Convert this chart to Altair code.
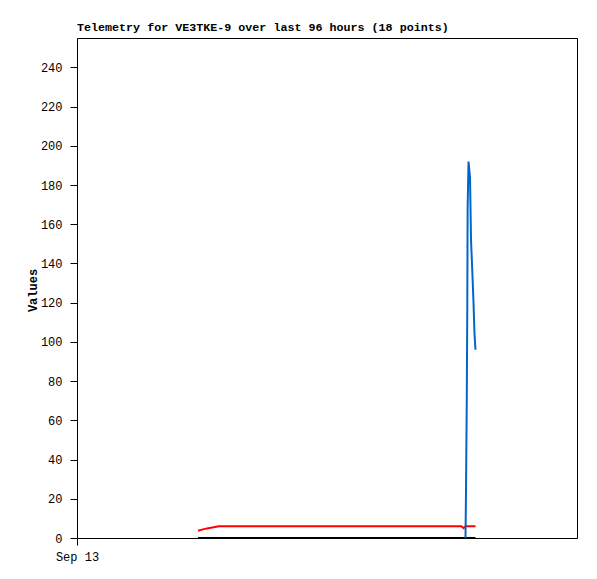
import altair as alt
import pandas as pd

# time offsets in hours from Sep 13 00:00
hours = [23.23, 24.19, 24.96, 27.26, 73.82, 74.21,
         74.59, 74.69, 74.84, 74.94, 75.00, 75.17,
         75.46, 75.65, 75.90, 76.13, 76.32, 76.51]
blue = [None, None, None, None, None, None,
        0, 24, 72, 120, 168, 192,
        184, 152, 136, 120, 104, 96]
red = [3.7, 4.4, 4.9, 6.0, 6.0, 5.0,
       6.0, 6.0, 6.0, 6.0, 6.0, 6.0,
       6.0, 6.0, 6.0, 6.0, 6.0, 6.0]
black = [0] * 18

y_ticks = [0, 20, 40, 60, 80, 100, 120, 140, 160, 180, 200, 220, 240]
title_text = "Telemetry for VE3TKE-9 over last 96 hours (18 points)"
x_label = "Sep 13"

df = pd.DataFrame({"hours": hours, "blue": blue, "red": red, "black": black})

FONT = "Liberation Mono"

xscale = alt.Scale(domain=[0, 96], nice=False, zero=False)
yscale = alt.Scale(domain=[0, 255], nice=False)

xaxis = alt.Axis(values=[0], labelExpr=f"'{x_label}'", title=None, grid=False,
                 ticks=True, tickSize=7, tickColor="black", domainColor="black",
                 labelFont=FONT, labelFontSize=12, labelColor="black",
                 labelFlush=False, labelAlign="center",
                 labelPadding=6, domainWidth=1, tickWidth=1)
yaxis = alt.Axis(values=y_ticks, title="Values", grid=False, ticks=True,
                 tickSize=7, tickColor="black", domainColor="black",
                 labelFont=FONT, labelFontSize=12, labelColor="black",
                 labelPadding=8, labelFlush=False,
                 titleFont=FONT, titleFontSize=12, titleFontWeight="bold",
                 titleColor="black", titleAngle=-90, titleX=-45, titleY=252,
                 titleAlign="center", titleBaseline="middle",
                 domainWidth=1, tickWidth=1)

xaxis_top = alt.Axis(orient="top", labels=False, ticks=False, title=None,
                     grid=False, domainColor="black", domainWidth=1)
yaxis_right = alt.Axis(orient="right", labels=False, ticks=False, title=None,
                       grid=False, domainColor="black", domainWidth=1)

base = alt.Chart(df)

frame = base.mark_line(opacity=0).encode(
    x=alt.X("hours:Q", scale=xscale, axis=xaxis_top),
    y=alt.Y("black:Q", scale=yscale, axis=yaxis_right),
)
l_black = base.mark_line(color="black", strokeWidth=2).encode(
    x=alt.X("hours:Q", scale=xscale, axis=xaxis),
    y=alt.Y("black:Q", scale=yscale, axis=yaxis),
)
l_red = base.mark_line(color="#ff0000", strokeWidth=2).encode(
    x=alt.X("hours:Q", scale=xscale, axis=None),
    y=alt.Y("red:Q", scale=yscale, axis=None),
)
l_blue = base.mark_line(color="#0066cc", strokeWidth=2).encode(
    x=alt.X("hours:Q", scale=xscale, axis=None),
    y=alt.Y("blue:Q", scale=yscale, axis=None),
)

chart = alt.layer(frame, l_black, l_red, l_blue).properties(
    width=500, height=500,
    title=alt.TitleParams(title_text, anchor="start", frame="group",
                          font=FONT, fontSize=11.7, fontWeight="bold",
                          color="black", offset=4),
    autosize=alt.AutoSizeParams(type="none"),
    padding={"left": 69, "top": 30, "right": 12, "bottom": 33},
).resolve_axis(x="independent", y="independent").configure_view(
    stroke=None).configure(background="white")

chart.save("out.html", embed_options={"renderer": "svg", "actions": False})
